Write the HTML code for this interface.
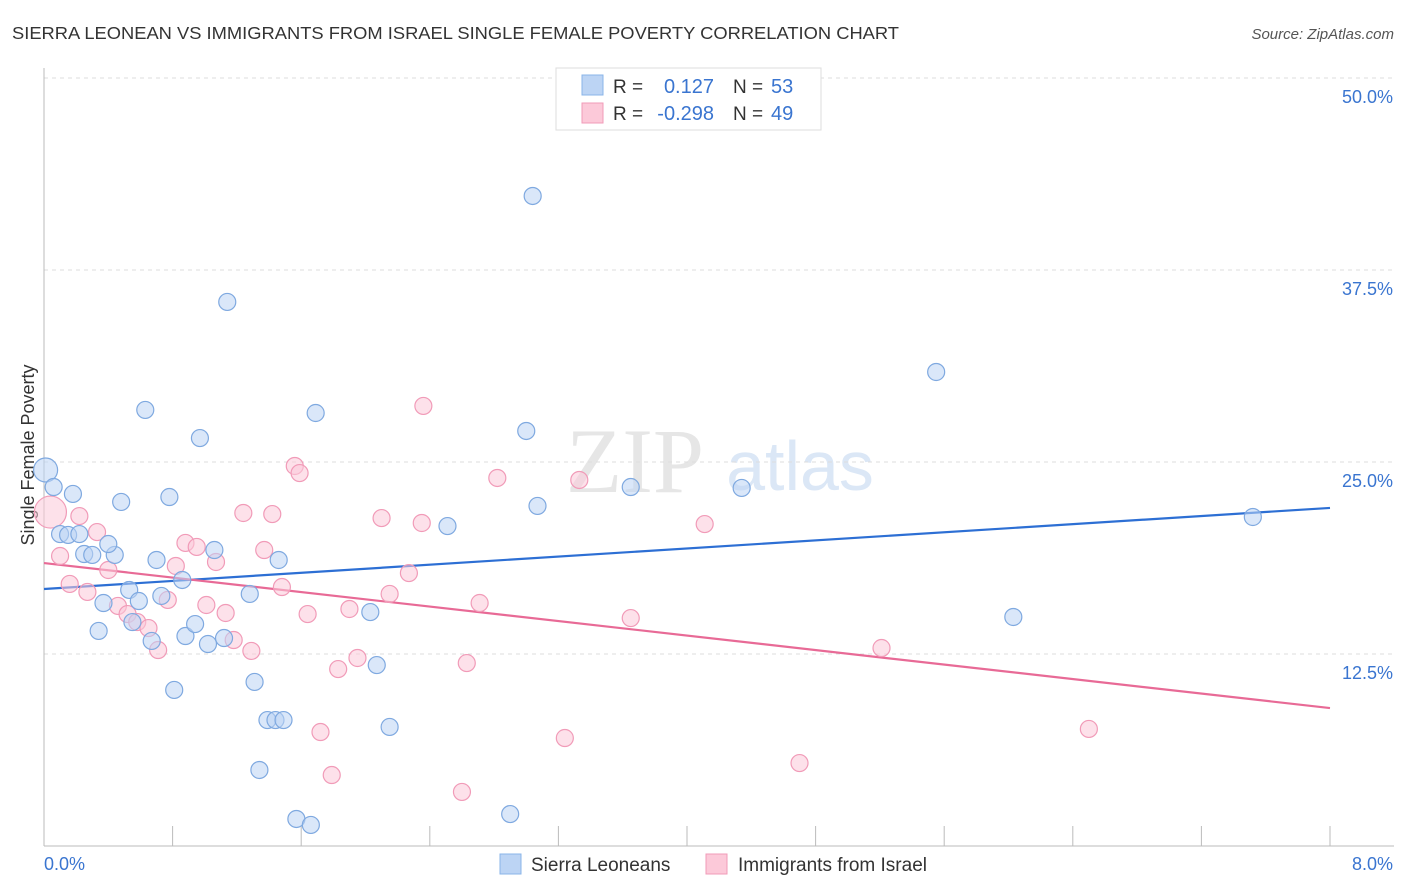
<!DOCTYPE html>
<html><head><meta charset="utf-8"><style>
body{margin:0;background:#fff;font-family:"Liberation Sans",sans-serif;}
svg{display:block}
</style></head><body>
<svg id="chart" width="1406" height="892" xmlns="http://www.w3.org/2000/svg">
<text x="12" y="39" font-size="17.5" fill="#333" textLength="887" lengthAdjust="spacingAndGlyphs">SIERRA LEONEAN VS IMMIGRANTS FROM ISRAEL SINGLE FEMALE POVERTY CORRELATION CHART</text>
<text x="1394" y="39" font-size="15" fill="#555" font-style="italic" text-anchor="end">Source: ZipAtlas.com</text>
<text x="635" y="492" font-size="92" fill="#e6e6e6" font-family="Liberation Serif,serif" text-anchor="middle">ZIP</text>
<text x="800" y="490" font-size="70" fill="#dbe7f6" text-anchor="middle">atlas</text>
<text transform="translate(34,455) rotate(-90)" font-size="18" fill="#333" text-anchor="middle">Single Female Poverty</text>
<g id="grid"></g><g id="ticks"></g><g id="lines"></g><g id="pts"></g>
<g>
<rect x="556" y="68" width="265" height="62" fill="#fff" stroke="#ddd"/>
<rect x="582" y="75" width="21" height="20" fill="#bcd4f4" stroke="#8ab4e8"/>
<rect x="582" y="103" width="21" height="20" fill="#fcc9d9" stroke="#f19bb8"/>
<text x="613" y="93" font-size="19" fill="#333">R =</text><text x="714" y="93" font-size="20" fill="#3a75d0" text-anchor="end">0.127</text>
<text x="733" y="93" font-size="19" fill="#333">N =</text><text x="771" y="93" font-size="20" fill="#3a75d0">53</text>
<text x="613" y="120" font-size="19" fill="#333">R =</text><text x="714" y="120" font-size="20" fill="#3a75d0" text-anchor="end">-0.298</text>
<text x="733" y="120" font-size="19" fill="#333">N =</text><text x="771" y="120" font-size="20" fill="#3a75d0">49</text>
</g>
<g>
<rect x="500" y="854" width="21" height="20" fill="#bcd4f4" stroke="#8ab4e8"/>
<text x="531" y="871" font-size="19" fill="#333">Sierra Leoneans</text>
<rect x="706" y="854" width="21" height="20" fill="#fcc9d9" stroke="#f19bb8"/>
<text x="738" y="871" font-size="19" fill="#333">Immigrants from Israel</text>
</g>
</svg>
<script>
const yTicks=[12.5,25,37.5,50];
const yTickLabels=["12.5%","25.0%","37.5%","50.0%"];
const xTickCount=10;
const xLabels=["0.0%","8.0%"];
const blueX=[0.01,0.06,0.18,0.10,0.15,0.22,0.25,0.30,0.44,0.40,0.48,0.78,0.63,0.97,1.14,1.69,3.04,3.00,3.07,2.51,3.65,4.34,5.55,7.52,6.03,0.70,0.53,0.37,0.59,0.73,0.86,1.06,1.46,1.28,0.34,0.55,0.67,0.88,0.94,1.02,1.12,2.03,2.07,0.81,1.31,1.39,1.44,1.49,2.15,1.34,1.57,1.66,2.90];
const blueY=[24.48,23.37,22.92,20.31,20.25,20.31,19.01,18.95,18.95,19.66,22.40,22.72,28.39,26.56,35.42,28.19,42.32,27.02,22.14,20.83,23.37,23.31,30.86,21.42,14.91,18.62,16.67,15.82,15.95,16.28,17.32,19.27,18.62,16.41,14.00,14.58,13.35,13.67,14.45,13.15,13.54,15.23,11.78,10.16,10.68,8.20,8.20,8.20,7.75,4.95,1.76,1.37,2.08];
const pinkX=[0.04,0.10,0.16,0.22,0.27,0.33,0.40,0.46,0.52,0.58,0.65,0.71,0.77,0.82,0.88,0.95,1.01,1.07,1.13,1.18,1.24,1.29,1.37,1.42,1.48,1.56,1.59,1.64,1.72,1.79,1.83,1.90,1.95,2.10,2.15,2.27,2.35,2.36,2.60,2.63,2.71,2.82,3.24,3.33,3.65,4.11,4.70,5.21,6.50];
const pinkY=[21.74,18.88,17.06,21.48,16.54,20.44,17.97,15.63,15.10,14.58,14.19,12.76,16.02,18.23,19.73,19.47,15.69,18.49,15.17,13.41,21.68,12.70,19.27,21.61,16.86,24.74,24.28,15.10,7.42,4.62,11.52,15.43,12.24,21.35,16.41,17.77,21.03,28.65,3.52,11.91,15.82,23.96,7.03,23.83,14.84,20.96,5.40,12.89,7.62];
const blueTrend=[16.73,22.01];
const pinkTrend=[18.42,8.98];
const X=v=>44+v/8*1286, Y=v=>846-v/12.5*192;
const NS="http://www.w3.org/2000/svg";
function mk(tag,attrs,parent){const e=document.createElementNS(NS,tag);for(const k in attrs)e.setAttribute(k,attrs[k]);document.getElementById(parent).appendChild(e);return e;}
yTicks.forEach((t,i)=>{
 const g=mk('line',{x1:44,x2:1394,y1:Y(t),y2:Y(t),stroke:'#ddd','stroke-dasharray':'4,4'},'grid');
 
 
 const l=mk('text',{x:1393,y:Y(t)+25,'font-size':18,fill:'#3a75d0','text-anchor':'end'},'grid');l.textContent=yTickLabels[i];
 
 
});
const ax=mk('line',{x1:44,x2:44,y1:68,y2:846,stroke:'#bbb'},'ticks');


const bx=mk('line',{x1:44,x2:1394,y1:846,y2:846,stroke:'#bbb'},'ticks');


for(let i=1;i<=xTickCount;i++){const t=mk('line',{x1:X(i*0.8),x2:X(i*0.8),y1:826,y2:846,stroke:'#bbb'},'ticks');
 
 }
const xl0=mk('text',{x:44,y:870,'font-size':18,fill:'#3a75d0'},'ticks');xl0.textContent=xLabels[0];


const xl1=mk('text',{x:1393,y:870,'font-size':18,fill:'#3a75d0','text-anchor':'end'},'ticks');xl1.textContent=xLabels[1];


function pts(xs,ys,fill,stroke,name){xs.forEach((x,i)=>{const r=(i===0)?(name==='israel-point'?16:12):8.5;
 const c=mk('circle',{cx:X(x),cy:Y(ys[i]),r:r,fill:fill,'fill-opacity':0.55,stroke:stroke,'stroke-width':1.2},'pts');
 
 });}
pts(pinkX,pinkY,'#fcc9d9','#f19bb8','israel-point');
pts(blueX,blueY,'#bcd4f4','#7fa9e0','sierra-point');
const bl=mk('line',{x1:X(0),x2:X(8),y1:Y(blueTrend[0]),y2:Y(blueTrend[1]),stroke:'#2d6fd4','stroke-width':2.2},'lines');


const pl=mk('line',{x1:X(0),x2:X(8),y1:Y(pinkTrend[0]),y2:Y(pinkTrend[1]),stroke:'#e86a96','stroke-width':2.2},'lines');


</script>
</body></html>
